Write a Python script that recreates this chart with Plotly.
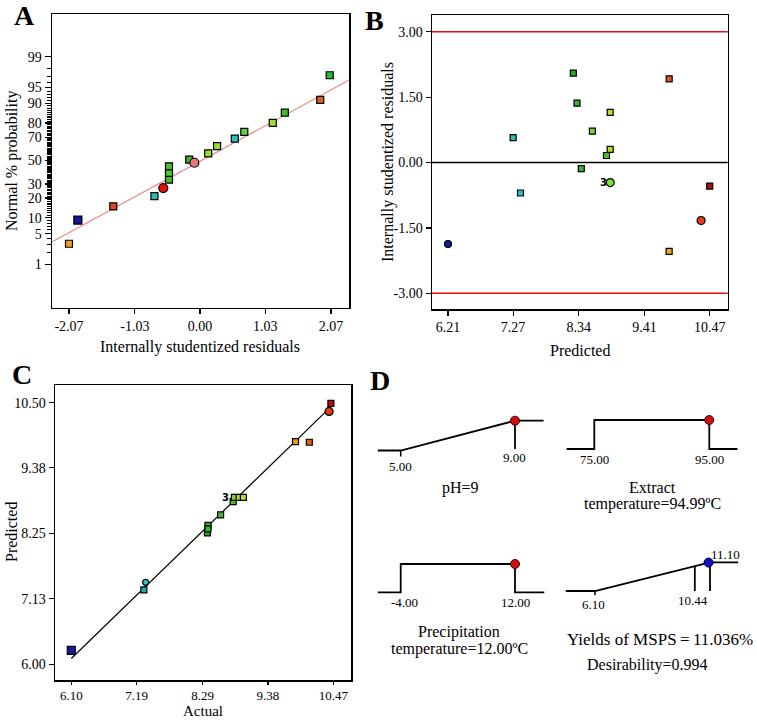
import numpy as np
import plotly.graph_objects as go
from statistics import NormalDist

W, H = 757, 720
FONT = "Liberation Serif, Times New Roman, DejaVu Serif, serif"
probit = NormalDist().inv_cdf

# ---------------- DATA ----------------
# Panel A: normal probability plot
a_resid = [-2.07, -1.93, -1.37, -0.72, -0.58, -0.49, -0.49, -0.49, -0.17, -0.09,
           0.13, 0.27, 0.55, 0.70, 1.15, 1.34, 1.90, 2.05]
a_prob = [3.1, 9.1, 15.2, 21.2, 26.8, 33.4, 39.0, 44.8, 50.8, 48.0,
          56.4, 62.6, 68.8, 73.9, 80.0, 85.8, 91.3, 97.2]
a_ref_resid = [-2.34, 2.35]
a_ref_prob = [3.4, 96.4]
a_xticks = [-2.07, -1.03, 0.00, 1.03, 2.07]
a_yticks = [1, 5, 10, 20, 30, 50, 70, 80, 90, 95, 99]

# Panel B: residuals vs predicted
b_pred = [6.21, 7.27, 7.39, 8.25, 8.31, 8.38, 8.56, 8.79, 8.85, 8.85, 8.85, 9.81, 9.81, 10.33, 10.47]
b_resid = [-1.87, 0.57, -0.70, 2.05, 1.36, -0.14, 0.72, 0.16, 1.15, 0.30, -0.46, 1.92, -2.04, -1.33, -0.54]
b_limits = [3.00, -3.00]
b_xticks = [6.21, 7.27, 8.34, 9.41, 10.47]
b_yticks = [-3.00, -1.50, 0.00, 1.50, 3.00]

# Panel C: predicted vs actual
c_actual = [6.10, 7.31, 7.34, 8.37, 8.38, 8.38, 8.59, 8.80, 8.82, 8.90, 8.97, 9.84, 10.07, 10.40, 10.43]
c_pred = [6.24, 7.28, 7.41, 8.26, 8.39, 8.33, 8.57, 8.80, 8.87, 8.87, 8.87, 9.83, 9.82, 10.35, 10.49]
c_line = [6.10, 10.44]
c_xticks = [6.10, 7.19, 8.29, 9.38, 10.47]
c_yticks = [6.00, 7.13, 8.25, 9.38, 10.50]

# Panel D: desirability ramps
ph_x = [4.2, 5.00, 9.00, 10.0];            ph_d = [0, 0, 1, 1]
ext_x = [70.2, 75.0, 75.0, 95.0, 95.0, 99.9]; ext_d = [0, 0, 1, 1, 0, 0]
pre_x = [-7.2, -4.0, -4.0, 12.0, 12.0, 16.1]; pre_d = [0, 0, 1, 1, 0, 0]
yld_x = [4.83, 6.10, 11.10, 12.33];        yld_d = [0, 0, 1, 1]
opt_values = [9.0, 94.99, 12.00, 11.036]
opt_desir = [1, 1, 1, 0.99]
yld_target = 10.44

# ---------------- STYLES ----------------
a_colors = ['#f0a020', '#1414a0', '#e04420', '#20c0b8', '#e80c0c', '#40c030', '#50c830', '#48c030',
            '#38b830', '#e87878', '#a0e020', '#a0e020', '#28c0c0', '#60d030', '#a8e030', '#40c030',
            '#e06018', '#30b830']
a_symbols = ['square'] * 18
a_symbols[4] = 'circle'; a_symbols[9] = 'circle'
a_sizes = [7] * 18
a_sizes[1] = 8; a_sizes[4] = 9; a_sizes[9] = 9

b_colors = ['#1818a8', '#28c0c0', '#28c0c0', '#20b020', '#30b830', '#30b830', '#78d020', '#50c030',
            '#b8e020', '#b8e020', '#80e030', '#e05818', '#f0a820', '#e83c18', '#b80c0c']
b_symbols = ['square'] * 15
b_symbols[0] = 'circle'; b_symbols[10] = 'circle'; b_symbols[13] = 'circle'
b_sizes = [6] * 15
b_sizes[0] = 7; b_sizes[10] = 8; b_sizes[13] = 8

c_colors = ['#1818a0', '#20b0a0', '#30c8c8', '#20a820', '#28b028', '#30b830', '#40b830', '#50c020',
            '#88d020', '#a8e030', '#b8e030', '#f09818', '#e06020', '#e83818', '#c00808']
c_symbols = ['square'] * 15
c_symbols[2] = 'circle'; c_symbols[13] = 'circle'
c_sizes = [6] * 15
c_sizes[0] = 8; c_sizes[13] = 8


def rng(v0, p0, v1, p1, pa, pb):
    s = (v1 - v0) / (p1 - p0)
    return [v0 + (pa - p0) * s, v0 + (pb - p0) * s]


def seg(v0, p0, v1, p1, r0, r1):
    s = (p1 - p0) / (v1 - v0)
    return p0 + (r0 - v0) * s, p0 + (r1 - v0) * s


def fmt(v):
    return f"{v:.2f}"


fig = go.Figure()
tf = dict(family=FONT, size=14, color='black')
base_ax = dict(showline=True, mirror=True, linecolor='black', linewidth=1.5, ticks='outside',
               ticklen=5, tickwidth=1.2, tickcolor='black', showgrid=False, zeroline=False,
               tickfont=tf, tickmode='array')

# ---------- Panel A ----------
fig.add_trace(go.Scatter(x=a_ref_resid, y=[probit(p / 100) for p in a_ref_prob], mode='lines',
                         line=dict(color='#f08a8a', width=1.2), xaxis='x', yaxis='y', showlegend=False))
fig.add_trace(go.Scatter(x=a_resid, y=[probit(p / 100) for p in a_prob], mode='markers',
                         marker=dict(symbol=a_symbols, size=a_sizes, color=a_colors, opacity=1,
                                     line=dict(color='black', width=1.2)),
                         xaxis='x', yaxis='y', showlegend=False, cliponaxis=False))

# ---------- Panel B ----------
fig.add_trace(go.Scatter(x=b_pred, y=b_resid, mode='markers',
                         marker=dict(symbol=b_symbols, size=b_sizes, color=b_colors, opacity=1,
                                     line=dict(color='black', width=1.2)),
                         xaxis='x2', yaxis='y2', showlegend=False, cliponaxis=False))

# ---------- Panel C ----------
fig.add_trace(go.Scatter(x=c_line, y=c_line, mode='lines', line=dict(color='black', width=1.2),
                         xaxis='x3', yaxis='y3', showlegend=False))
fig.add_trace(go.Scatter(x=c_actual, y=c_pred, mode='markers',
                         marker=dict(symbol=c_symbols, size=c_sizes, color=c_colors, opacity=1,
                                     line=dict(color='black', width=1.2)),
                         xaxis='x3', yaxis='y3', showlegend=False, cliponaxis=False))

# ---------- Panel D ----------
d_specs = [
    (ph_x, ph_d, (5.00, 400.7, 9.00, 515.0), (450.5, 420.7)),
    (ext_x, ext_d, (75.0, 594.3, 95.0, 709.3), (449.0, 420.0)),
    (pre_x, pre_d, (-4.0, 400.7, 12.0, 515.0), (592.3, 564.0)),
    (yld_x, yld_d, (6.10, 595.0, 11.10, 710.0), (591.0, 562.3)),
]
dot_colors = ['#d01010', '#d01010', '#d01010', '#1010c0']
d_axes = []
for i, (xs, ds, (lo, plo, hi, phi), (pb, pt)) in enumerate(d_specs):
    n = i + 4
    span = max(xs) - min(xs)
    r0, r1 = min(xs) - 0.02 * span, max(xs) + 0.02 * span
    xa, xb = seg(lo, plo, hi, phi, r0, r1)
    ya, yb = seg(0, pb, 1, pt, -0.6, 1.6)
    d_axes.append((n, [r0, r1], [xa / W, xb / W], [1 - ya / H, 1 - yb / H]))
    fig.add_trace(go.Scatter(x=xs, y=ds, mode='lines', line=dict(color='black', width=1.8),
                             xaxis=f'x{n}', yaxis=f'y{n}', showlegend=False))


def vline(n, x, d0, d1, w=1.8):
    fig.add_trace(go.Scatter(x=[x, x], y=[d0, d1], mode='lines', line=dict(color='black', width=w),
                             xaxis=f'x{n}', yaxis=f'y{n}', showlegend=False))


vline(4, ph_x[2], 1, 0.05)
vline(4, ph_x[1], 0, -0.2, 1.5)
vline(7, yld_x[1], 0, -0.15, 1.5)
vline(7, yld_target, float(np.interp(yld_target, yld_x, yld_d)) - 0.02, 0)
vline(7, yld_x[2], 1, 0)

for i in range(4):
    n = i + 4
    fig.add_trace(go.Scatter(x=[opt_values[i]], y=[opt_desir[i]], mode='markers',
                             marker=dict(size=9, color=dot_colors[i], opacity=1,
                                         line=dict(color='#400000' if i < 3 else '#000040', width=1)),
                             xaxis=f'x{n}', yaxis=f'y{n}', showlegend=False, cliponaxis=False))

# ---------------- LAYOUT ----------------
layout = dict(width=W, height=H, margin=dict(l=0, r=0, t=0, b=0), plot_bgcolor='white',
              paper_bgcolor='white', font=dict(family=FONT, color='black'), hovermode=False)

layout['xaxis'] = dict(base_ax, domain=[52 / W, 349 / W], range=rng(-2.07, 69, 2.07, 331, 52, 349),
                       tickvals=a_xticks, ticktext=[fmt(v) for v in a_xticks], anchor='y')
minor_p = [p for p in range(1, 100) if p not in a_yticks]
layout['yaxis'] = dict(base_ax, domain=[1 - 307.7 / H, 1 - 14 / H],
                       range=rng(probit(0.01), 264.3, probit(0.99), 56.7, 307.7, 14),
                       tickvals=[probit(p / 100) for p in a_yticks], ticktext=[str(p) for p in a_yticks],
                       ticklen=6, anchor='x',
                       minor=dict(tickmode='array', tickvals=[probit(p / 100) for p in minor_p],
                                  ticks='outside', ticklen=4, tickwidth=1, tickcolor='black'))
layout['xaxis2'] = dict(base_ax, domain=[432 / W, 727.7 / W], range=rng(6.21, 448, 10.47, 709.7, 432, 727.7),
                        tickvals=b_xticks, ticktext=[fmt(v) for v in b_xticks], anchor='y2')
layout['yaxis2'] = dict(base_ax, domain=[1 - 309 / H, 1 - 15 / H], range=rng(-3.0, 293.3, 3.0, 31.7, 309, 15),
                        tickvals=b_yticks, ticktext=[fmt(v) for v in b_yticks], anchor='x2')
layout['xaxis3'] = dict(base_ax, domain=[55 / W, 351 / W], range=rng(6.10, 71.3, 10.47, 333.3, 55, 351),
                        tickvals=c_xticks, ticktext=[fmt(v) for v in c_xticks], anchor='y3', ticklen=3,
                        tickfont=dict(family=FONT, size=13, color='black'))
layout['yaxis3'] = dict(base_ax, domain=[1 - 680 / H, 1 - 385 / H], range=rng(6.00, 664.3, 10.50, 402.7, 680, 385),
                        tickvals=c_yticks, ticktext=[fmt(v) for v in c_yticks], anchor='x3')
for n, xr, xd, yd in d_axes:
    layout[f'xaxis{n}'] = dict(domain=xd, range=xr, visible=False, anchor=f'y{n}')
    layout[f'yaxis{n}'] = dict(domain=yd, range=[-0.6, 1.6], visible=False, anchor=f'x{n}')

shapes = []
for lim in b_limits:
    shapes.append(dict(type='line', xref='x2 domain', yref='y2', x0=0, x1=1, y0=lim, y1=lim,
                       line=dict(color='#e01010', width=1.6)))
shapes.append(dict(type='line', xref='x2 domain', yref='y2', x0=0, x1=1, y0=0, y1=0,
                   line=dict(color='black', width=1.6)))
layout['shapes'] = shapes

ann = []


def pa(text, px, py, size=16, bold=False, angle=0):
    t = f"<b>{text}</b>" if bold else text
    ann.append(dict(text=t, x=px / W, y=1 - py / H, xref='paper', yref='paper', showarrow=False,
                    textangle=angle, xanchor='center', yanchor='middle',
                    font=dict(family=FONT, size=size, color='black')))


pa('A', 24, 15, 28, True)
pa('B', 374, 20, 28, True)
pa('C', 22, 374, 28, True)
pa('D', 380, 380, 28, True)
pa('Internally studentized residuals', 200, 347, 16)
pa('Normal % probability', 12, 161, 16, angle=-90)
pa('Internally studentized residuals', 388, 162, 16, angle=-90)
pa('Predicted', 580, 350, 16)
pa('Predicted', 11, 532, 16, angle=-90)
pa('Actual', 203, 711, 15)
pa('pH=9', 460, 488, 16)
pa('Extract', 652, 487, 16)
pa('temperature=94.99ºC', 652, 504, 16)
pa('Precipitation', 459, 632, 16)
pa('temperature=12.00ºC', 459, 649, 16)
pa('Yields of MSPS\u2009=\u200911.036%', 660, 639, 17)
pa('Desirability=0.994', 647, 665, 16)


def da(text, n, x, y, xs=0, ys=0, size=13):
    ann.append(dict(text=text, x=x, y=y, xref=f'x{n}', yref=f'y{n}', showarrow=False,
                    xshift=xs, yshift=ys, xanchor='center', yanchor='middle',
                    font=dict(family=FONT, size=size, color='black')))


da(fmt(ph_x[1]), 4, ph_x[1], 0, 0, -16)
da(fmt(ph_x[2]), 4, ph_x[2], 0, 0, -7)
da(fmt(ext_x[1]), 5, ext_x[1], 0, 0, -10)
da(fmt(ext_x[3]), 5, ext_x[3], 0, 0, -10)
da(fmt(pre_x[1]), 6, pre_x[1], 0, 4, -10)
da(fmt(pre_x[3]), 6, pre_x[3], 0, 0, -10)
da(fmt(yld_x[1]), 7, yld_x[1], 0, -2, -14)
da(fmt(yld_target), 7, yld_target, 0, -2, -10)
da(fmt(yld_x[2]), 7, yld_x[2], 1, 15, 8)

ann.append(dict(text='<b>3</b>', x=b_pred[10], y=b_resid[10], xref='x2', yref='y2', showarrow=False,
                xshift=-7, font=dict(family='DejaVu Sans', size=10, color='black')))
ann.append(dict(text='<b>3</b>', x=c_actual[8], y=c_pred[8], xref='x3', yref='y3', showarrow=False,
                xshift=-9, font=dict(family='DejaVu Sans', size=10, color='black')))

layout['annotations'] = ann
fig.update_layout(**layout)
fig.write_html("out.html", config={'displayModeBar': False, 'staticPlot': True},
               post_script="document.body.style.margin='0';document.body.style.padding='0';")
